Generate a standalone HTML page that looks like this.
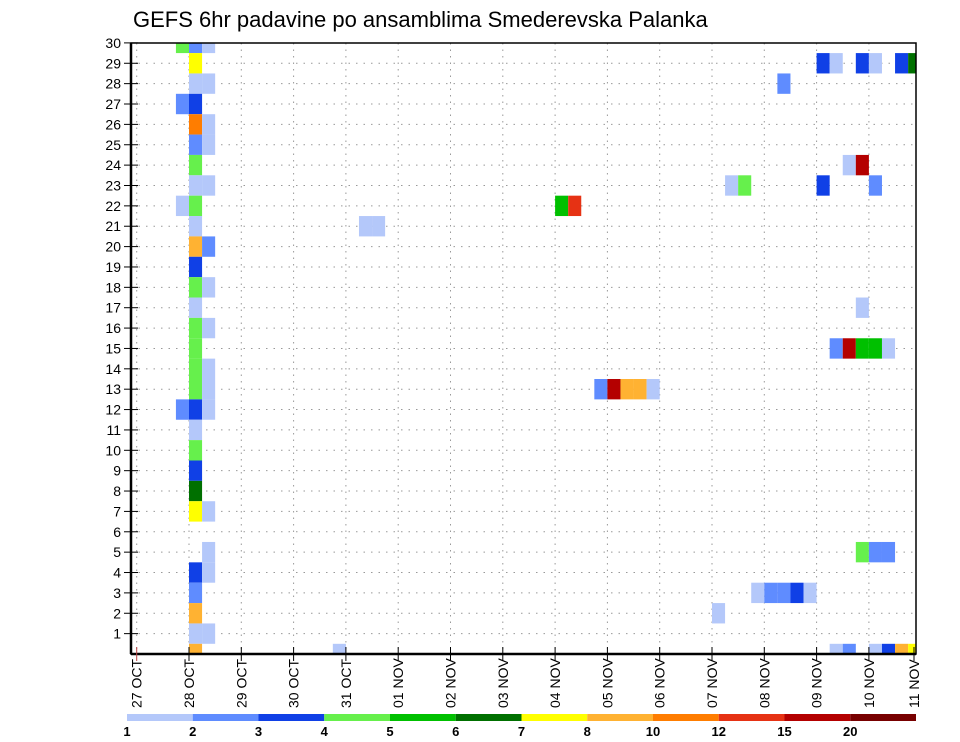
<!DOCTYPE html>
<html><head><meta charset="utf-8">
<style>
html,body{margin:0;padding:0;background:#fff;}
svg{display:block;font-family:"Liberation Sans",sans-serif;}
</style></head>
<body>
<svg id="chart" width="960" height="742" viewBox="0 0 960 742">
<text x="133" y="27" font-size="22" fill="#000">GEFS 6hr padavine po ansamblima Smederevska Palanka</text>
<g id="grid"></g>
<g id="cells" clip-path="url(#plotclip)"></g>
<defs><clipPath id="plotclip"><rect x="131" y="43" width="785" height="611"/></clipPath></defs>
<rect x="131" y="43" width="785" height="611" fill="none" stroke="#000" stroke-width="1.5"/>
<line x1="131" y1="43" x2="131" y2="654" stroke="#000" stroke-width="2.5"/>
<line x1="131" y1="654" x2="916" y2="654" stroke="#000" stroke-width="2.5"/>
<g id="yaxis"></g>
<g id="xaxis"></g>
<g id="colorbar"></g>
</svg>
<script>
// ---- data ----
const dayLabels = ["27 OCT","28 OCT","29 OCT","30 OCT","31 OCT","01 NOV","02 NOV","03 NOV","04 NOV","05 NOV","06 NOV","07 NOV","08 NOV","09 NOV","10 NOV","11 NOV"];
const memberTicks = [1,2,3,4,5,6,7,8,9,10,11,12,13,14,15,16,17,18,19,20,21,22,23,24,25,26,27,28,29,30];
const levels = [1,2,3,4,5,6,7,8,10,12,15,20];
const levelColors = ["#b4c8fa","#5f8cff","#1040e6","#66f04c","#00c000","#007000","#ffff00","#ffb232","#ff7d00","#e63214","#b40000","#780000"];
// cells: member, 6-hour step index from 28 OCT 00Z, precipitation value
const cellMembers = [30,30,30,29,28,28,27,27,26,26,25,25,24,23,23,22,22,21,20,20,19,18,18,17,16,16,15,14,14,13,13,12,12,12,11,10,9,8,7,7,5,4,4,3,2,1,1,0,
 0,21,21,22,22,13,13,13,13,13,
 29,29,29,29,29,29,28,24,24,23,23,23,23,17,15,15,15,15,15,
 5,5,5,3,3,3,3,3,2,0,0,0,0,0,0];
const cellSteps = [-1,0,1,0,0,1,-1,0,0,1,0,1,0,0,1,-1,0,0,0,1,0,0,1,0,0,1,0,0,1,0,1,-1,0,1,0,0,0,0,0,1,1,0,1,0,0,0,1,0,
 11,13,14,28,29,31,32,33,34,35,
 48,49,51,52,54,55,45,50,51,41,42,48,52,51,49,50,51,52,53,
 51,52,53,43,44,45,46,47,40,49,50,52,53,54,55];
const cellValues = [4.5,2.5,1.5,7.5,1.5,1.5,2.5,3.5,11,1.5,2.5,1.5,4.5,1.5,1.5,1.5,4.5,1.5,9,2.5,3.5,4.5,1.5,1.5,4.5,1.5,4.5,4.5,1.5,4.5,1.5,2.5,3.5,1.5,1.5,4.5,3.5,6.5,7.5,1.5,1.5,3.5,1.5,2.5,9,1.5,1.5,9,
 1.5,1.5,1.5,5.5,13.5,2.5,17,9,9,1.5,
 3.5,1.5,3.5,1.5,3.5,6.5,2.5,1.5,17,1.5,4.5,3.5,2.5,1.5,2.5,17,5.5,5.5,1.5,
 4.5,2.5,2.5,1.5,2.5,2.5,3.5,1.5,1.5,1.5,2.5,1.5,3.5,9,7.5];

// ---- scales ----
const X0 = 136.7, DAY = 52.3;
function xDay(d){ return X0 + d*DAY; }
function xStep(i){ return xDay(1 + i/4); }
function yMember(m){ return 654 - m*20.37; }
function colorFor(v){ let c = levelColors[0]; for(let k=0;k<levels.length;k++){ if(v>=levels[k]) c = levelColors[k]; } return c; }

const NS = "http://www.w3.org/2000/svg";
function mk(tag, attrs, parent){ const e=document.createElementNS(NS,tag); for(const k in attrs) e.setAttribute(k,attrs[k]); parent.appendChild(e); return e; }

// grid
const grid = document.getElementById("grid");
for(let d=0; d<dayLabels.length; d++){
  const x = xDay(d);
  if(x>131 && x<916){
    const l = mk("line",{x1:x,y1:43,x2:x,y2:654,stroke:"#999","stroke-width":1,"stroke-dasharray":"1.5 5"},grid);
    
    
  }
}
for(const m of memberTicks){
  if(m>=30) continue;
  const y = yMember(m);
  const l = mk("line",{x1:131,y1:y,x2:916,y2:y,stroke:"#999","stroke-width":1,"stroke-dasharray":"1.5 6"},grid);
  
  
}

// cells
const cells = document.getElementById("cells");
for(let k=0;k<cellMembers.length;k++){
  const x1 = xStep(cellSteps[k]), x2 = xStep(cellSteps[k]+1);
  const yc = yMember(cellMembers[k]);
  const h = 20.37;
  const r = mk("rect",{x:x1,y:yc-h/2,width:x2-x1,height:h,fill:colorFor(cellValues[k])},cells);
  
  
}

// y axis
const ya = document.getElementById("yaxis");
for(const m of memberTicks){
  const y = yMember(m);
  const t = mk("line",{x1:124,y1:y,x2:138,y2:y,stroke:"#000","stroke-width":1},ya);
  
  
  const tx = mk("text",{x:121,y:y+5,"font-size":14,"text-anchor":"end",fill:"#000"},ya);
  tx.textContent = m;
  
  
}

// x axis
const xa = document.getElementById("xaxis");
for(let d=0; d<dayLabels.length; d++){
  const x = Math.min(xDay(d), 914);
  const t = mk("line",{x1:x,y1:647,x2:x,y2:661,stroke:d===0?"#b44":"#000","stroke-width":1},xa);
  
  
  const tx = mk("text",{x:0,y:0,"font-size":14,"text-anchor":"start",fill:"#000",transform:`translate(${x+5},${708}) rotate(-90)`},xa);
  tx.textContent = dayLabels[d];
  
  
}

// colorbar
const cb = document.getElementById("colorbar");
const cbX0 = 127, cbW = 65.75;
for(let k=0;k<levelColors.length;k++){
  const r = mk("rect",{x:cbX0+k*cbW,y:714,width:cbW,height:7,fill:levelColors[k]},cb);
  
  
  const tx = mk("text",{x:cbX0+k*cbW,y:736,"font-size":13,"font-weight":"bold","text-anchor":"middle",fill:"#000"},cb);
  tx.textContent = levels[k];
  
  
}
</script>
</body></html>
